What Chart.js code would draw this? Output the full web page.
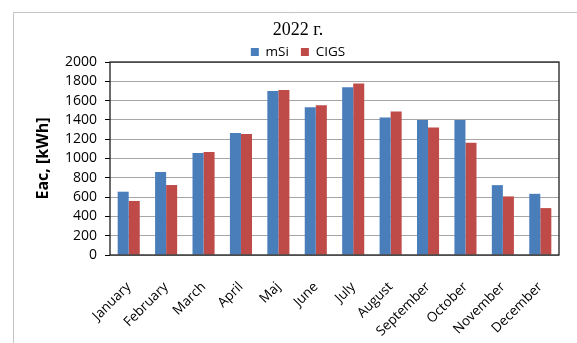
<!DOCTYPE html>
<html>
<head>
<meta charset="utf-8">
<script src="https://cdn.jsdelivr.net/npm/chart.js@4/dist/chart.umd.min.js"></script>
<style>
  html, body { margin: 0; padding: 0; background: #fff; }
  #wrap { width: 577px; height: 343px; position: relative; }
</style>
</head>
<body>
<div id="wrap"><canvas id="c"></canvas></div>
<script>
// Monthly AC energy yield, 2022
const months = ['January', 'February', 'March', 'April', 'Maj', 'June', 'July',
                'August', 'September', 'October', 'November', 'December'];
const mSi  = [656, 860, 1058, 1264, 1700, 1531, 1738, 1424, 1398, 1400, 724, 634];
const cigs = [560, 725, 1068, 1254, 1710, 1552, 1776, 1486, 1321, 1162, 607, 486];
const yTicks = { min: 0, max: 2000, step: 200 };

const FONT = "'Open Sans', 'Liberation Sans', sans-serif";

// Outer sheet frame (left and top edges) and white page
const pageFrame = {
  id: 'pageFrame',
  beforeDraw(chart) {
    const ctx = chart.ctx;
    ctx.save();
    ctx.fillStyle = '#fff';
    ctx.fillRect(0, 0, chart.width, chart.height);
    ctx.strokeStyle = '#c4c4c4';
    ctx.lineWidth = 1;
    ctx.beginPath();
    ctx.moveTo(13.5, chart.height);
    ctx.lineTo(13.5, 12.5);
    ctx.lineTo(chart.width, 12.5);
    ctx.stroke();
    ctx.restore();
  }
};

// Dark border round the plot area
const plotFrame = {
  id: 'plotFrame',
  afterDatasetsDraw(chart) {
    const { ctx, chartArea: a } = chart;
    ctx.save();
    ctx.strokeStyle = '#1e1e1e';
    ctx.lineWidth = 1.3;
    ctx.strokeRect(a.left, a.top, a.right - a.left, a.bottom - a.top);
    ctx.restore();
  }
};

new Chart(document.getElementById('c'), {
  type: 'bar',
  data: {
    labels: months,
    datasets: [
      { label: 'mSi',  data: mSi,  backgroundColor: '#4a7ebb' },
      { label: 'CIGS', data: cigs, backgroundColor: '#be4b48' }
    ]
  },
  plugins: [pageFrame, plotFrame],
  options: {
    responsive: true,
    maintainAspectRatio: false,
    animation: false,
    layout: { padding: { left: 37, right: 18, top: 12, bottom: 0 } },
    datasets: { bar: { categoryPercentage: 0.59, barPercentage: 1.0 } },
    plugins: {
      tooltip: { enabled: false },
      title: {
        display: true,
        text: '2022 г.',
        color: '#000',
        font: { family: "'Liberation Serif', 'Times New Roman', serif", size: 18, weight: 'normal', lineHeight: 1.0 },
        padding: { top: 9, bottom: -5.75 }
      },
      legend: {
        display: true,
        maxHeight: 28.75,
        labels: {
          color: '#000',
          font: { family: FONT, size: 13.5 },
          boxWidth: 8,
          boxHeight: 8,
          padding: 12
        }
      }
    },
    scales: {
      x: {
        afterFit(scale) { scale.height = 88; },
        grid: { display: false, drawTicks: false },
        border: { display: false },
        ticks: {
          color: '#000',
          font: { family: FONT, size: 13.5 },
          minRotation: 45,
          maxRotation: 45,
          autoSkip: false,
          padding: 24
        }
      },
      y: {
        min: yTicks.min,
        max: yTicks.max,
        afterFit(scale) { scale.width = 73; },
        grid: { color: '#a6a6a6', lineWidth: 1, tickLength: 5, tickColor: '#000' },
        border: { display: false },
        ticks: {
          stepSize: yTicks.step,
          autoSkip: false,
          callback: (v) => String(v),
          color: '#000',
          font: { family: FONT, size: 14 },
          padding: 8
        },
        title: {
          display: true,
          text: 'Eac, [kWh]',
          color: '#000',
          font: { family: FONT, size: 16, weight: 'bold' },
          padding: { top: -3, bottom: 0 }
        }
      }
    }
  }
});
</script>
</body>
</html>
